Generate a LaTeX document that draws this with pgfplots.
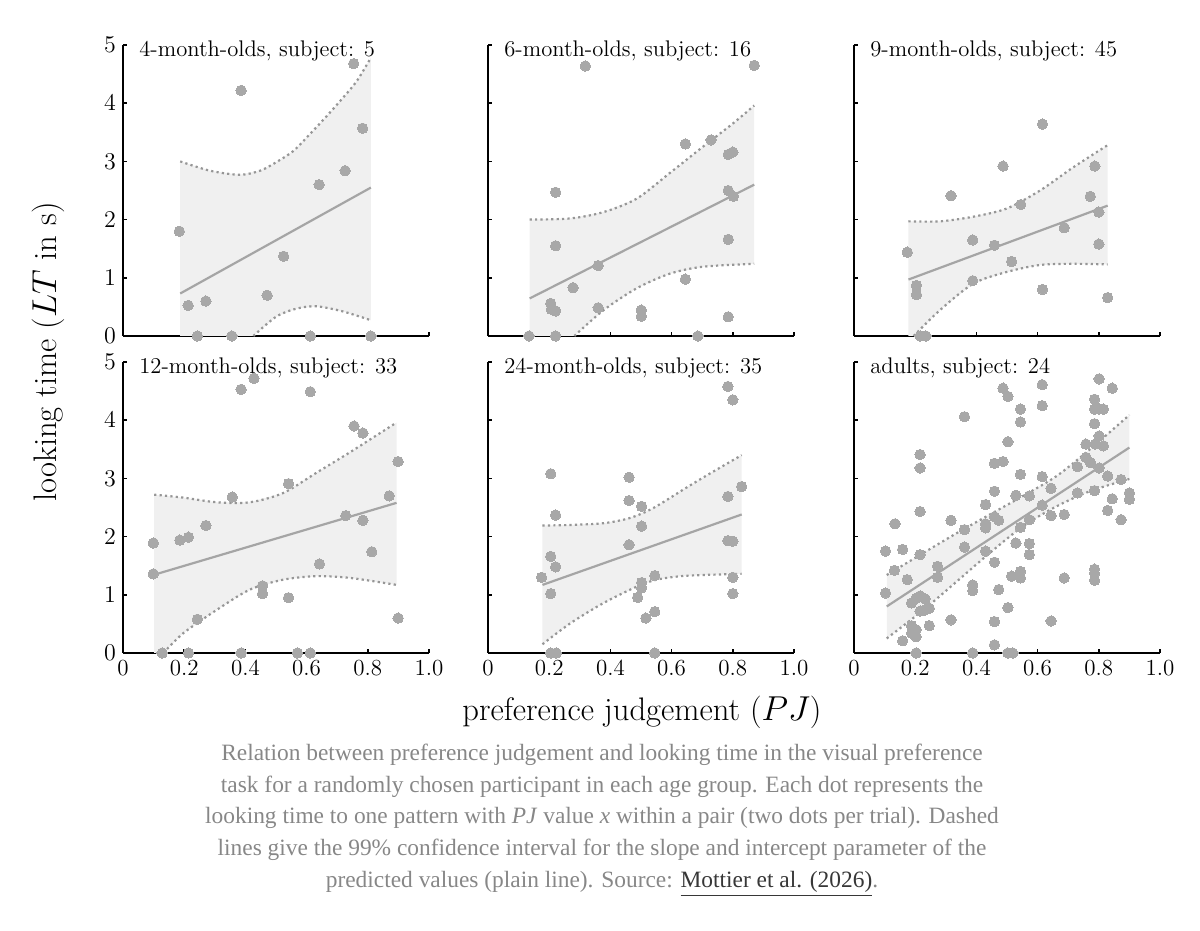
\documentclass[border=0pt]{standalone}
\usepackage{fontspec}
\newfontfamily\capfont{Liberation Serif}
\usepackage{pgfplots}
\pgfplotsset{compat=1.18}
\definecolor{dotgray}{RGB}{168,168,168}
\definecolor{bandgray}{RGB}{240,240,240}
\definecolor{linegray}{RGB}{165,165,165}
\definecolor{cigray}{RGB}{150,150,150}
\definecolor{capgray}{RGB}{135,135,135}
\definecolor{linkgray}{RGB}{55,55,55}
\pgfplotsset{
 panel/.style={
  scale only axis, width=153pt, height=145.5pt,
  xmin=0,xmax=1,ymin=0,ymax=5,
  axis x line=bottom, axis y line=left,
  axis line style={-, line width=0.9pt, black},
  tick align=inside, major tick length=2.2pt,
  tick style={line width=0.8pt, black},
  xtick={0,0.2,0.4,0.6,0.8,1}, xticklabels={0,0.2,0.4,0.6,0.8,1.0},
  ytick={0,1,2,3,4,5},
  tick label style={font=\fontsize{11.5}{12}\selectfont},
  clip=false,
  anchor=south west,
 },
 notx/.style={xticklabels={}},
 noty/.style={yticklabels={}},
 band/.style={fill=bandgray, draw=none, forget plot},
 ci/.style={cigray, line width=1.1pt, dash pattern=on 1.1pt off 1.6pt, smooth, tension=0.5, no markers},
 fit/.style={linegray, line width=1.1pt, no markers},
 dots/.style={only marks, mark=*, mark size=2.6pt, color=dotgray, mark options={fill=dotgray, draw=dotgray, line width=0pt}},
}
\newcommand\paneltitle[1]{\node[anchor=base west, inner sep=0pt, font=\fontsize{11.3}{12}\selectfont] at ([xshift=8pt,yshift=-5.5pt]rel axis cs:0,1) {#1};}
\begin{document}
\begin{tikzpicture}
\useasboundingbox (0,0) rectangle (600pt,465.5pt);
% ---------- panel 1
\begin{axis}[panel, notx, at={(61.5pt,297.5pt)}]
\addplot[band] coordinates {(0.187,0)(0.187,3.00)(0.284,2.84)(0.382,2.77)(0.448,2.84)(0.502,2.99)(0.557,3.18)(0.611,3.47)(0.666,3.78)(0.72,4.10)(0.764,4.38)(0.81,4.78)(0.81,0.27)(0.72,0.42)(0.633,0.51)(0.567,0.47)(0.50,0.33)(0.426,0)} -- cycle;
\addplot[ci] coordinates {(0.187,3.00)(0.284,2.84)(0.382,2.77)(0.448,2.84)(0.502,2.99)(0.557,3.18)(0.611,3.47)(0.666,3.78)(0.72,4.10)(0.764,4.38)(0.81,4.78)};
\addplot[ci] coordinates {(0.426,0)(0.50,0.33)(0.567,0.47)(0.633,0.51)(0.72,0.42)(0.81,0.27)};
\addplot[fit] coordinates {(0.187,0.73)(0.81,2.55)};
\addplot[dots] coordinates {(0.184,1.80)(0.213,0.525)(0.271,0.60)(0.243,0)(0.356,0)(0.386,4.22)(0.471,0.70)(0.525,1.37)(0.612,0)(0.641,2.60)(0.726,2.84)(0.754,4.68)(0.783,3.57)(0.810,0)};
\paneltitle{4-month-olds, subject: 5}
\end{axis}
% ---------- panel 2
\begin{axis}[panel, notx, noty, at={(244pt,297.5pt)}]
\addplot[band] coordinates {(0.136,0)(0.136,2.00)(0.269,2.02)(0.378,2.13)(0.486,2.36)(0.594,2.80)(0.702,3.25)(0.80,3.65)(0.87,3.96)(0.87,1.24)(0.702,1.19)(0.594,1.07)(0.486,0.82)(0.378,0.445)(0.282,0)} -- cycle;
\addplot[ci] coordinates {(0.136,2.00)(0.269,2.02)(0.378,2.13)(0.486,2.36)(0.594,2.80)(0.702,3.25)(0.80,3.65)(0.87,3.96)};
\addplot[ci] coordinates {(0.282,0)(0.378,0.445)(0.486,0.82)(0.594,1.07)(0.702,1.19)(0.87,1.24)};
\addplot[fit] coordinates {(0.136,0.645)(0.87,2.60)};
\addplot[dots] coordinates {(0.134,0)(0.221,0)(0.318,4.64)(0.221,2.47)(0.221,1.55)(0.205,0.56)(0.207,0.46)(0.221,0.43)(0.278,0.83)(0.360,1.21)(0.360,0.485)(0.501,0.445)(0.501,0.34)(0.645,3.30)(0.645,0.976)(0.686,0)(0.729,3.37)(0.785,3.12)(0.80,3.16)(0.785,2.50)(0.802,2.40)(0.785,1.66)(0.785,0.33)(0.870,4.65)};
\paneltitle{6-month-olds, subject: 16}
\end{axis}
% ---------- panel 3
\begin{axis}[panel, notx, noty, at={(427pt,297.5pt)}]
\addplot[band] coordinates {(0.178,0)(0.178,1.97)(0.281,1.97)(0.39,2.05)(0.499,2.19)(0.608,2.50)(0.717,2.90)(0.829,3.28)(0.829,1.23)(0.717,1.24)(0.608,1.22)(0.499,1.10)(0.39,0.90)(0.281,0.445)(0.195,0)} -- cycle;
\addplot[ci] coordinates {(0.178,1.97)(0.281,1.97)(0.39,2.05)(0.499,2.19)(0.608,2.50)(0.717,2.90)(0.829,3.28)};
\addplot[ci] coordinates {(0.195,0)(0.281,0.445)(0.39,0.90)(0.499,1.10)(0.608,1.22)(0.717,1.24)(0.829,1.23)};
\addplot[fit] coordinates {(0.178,0.97)(0.829,2.24)};
\addplot[dots] coordinates {(0.174,1.44)(0.204,0.87)(0.204,0.71)(0.216,0)(0.235,0)(0.317,2.41)(0.388,1.65)(0.388,0.95)(0.459,1.56)(0.487,2.92)(0.515,1.28)(0.545,2.26)(0.616,3.64)(0.616,0.80)(0.687,1.86)(0.772,2.40)(0.787,2.92)(0.80,2.13)(0.80,1.58)(0.829,0.66)};
\paneltitle{9-month-olds, subject: 45}
\end{axis}
% ---------- panel 4
\begin{axis}[panel, at={(61.5pt,139pt)}]
\addplot[band] coordinates {(0.102,0)(0.102,2.72)(0.197,2.67)(0.306,2.59)(0.415,2.59)(0.524,2.75)(0.633,3.10)(0.742,3.45)(0.894,3.96)(0.894,1.17)(0.742,1.29)(0.633,1.32)(0.524,1.26)(0.415,1.09)(0.306,0.74)(0.197,0.34)(0.132,0)} -- cycle;
\addplot[ci] coordinates {(0.102,2.72)(0.197,2.67)(0.306,2.59)(0.415,2.59)(0.524,2.75)(0.633,3.10)(0.742,3.45)(0.894,3.96)};
\addplot[ci] coordinates {(0.132,0)(0.197,0.34)(0.306,0.74)(0.415,1.09)(0.524,1.26)(0.633,1.32)(0.742,1.29)(0.894,1.17)};
\addplot[fit] coordinates {(0.102,1.345)(0.894,2.58)};
\addplot[dots] coordinates {(0.099,1.89)(0.099,1.36)(0.128,0)(0.186,1.94)(0.214,1.99)(0.214,0)(0.243,0.58)(0.271,2.19)(0.357,2.68)(0.386,4.53)(0.386,0)(0.428,4.72)(0.456,1.155)(0.456,1.02)(0.541,2.91)(0.541,0.95)(0.570,0)(0.612,4.49)(0.612,0)(0.642,1.53)(0.728,2.36)(0.755,3.90)(0.784,3.78)(0.784,2.28)(0.813,1.74)(0.870,2.70)(0.899,3.29)(0.899,0.60)};
\paneltitle{12-month-olds, subject: 33}
\end{axis}
% ---------- panel 5
\begin{axis}[panel, noty, at={(244pt,139pt)}]
\addplot[band] coordinates {(0.178,0.15)(0.178,2.19)(0.269,2.20)(0.378,2.23)(0.464,2.32)(0.54,2.49)(0.648,2.84)(0.724,3.08)(0.829,3.40)(0.829,1.36)(0.702,1.34)(0.63,1.32)(0.551,1.26)(0.486,1.14)(0.378,0.86)(0.269,0.51)} -- cycle;
\addplot[ci] coordinates {(0.178,2.19)(0.269,2.20)(0.378,2.23)(0.464,2.32)(0.54,2.49)(0.648,2.84)(0.724,3.08)(0.829,3.40)};
\addplot[ci] coordinates {(0.178,0.15)(0.269,0.51)(0.378,0.86)(0.486,1.14)(0.551,1.26)(0.63,1.32)(0.702,1.34)(0.829,1.36)};
\addplot[fit] coordinates {(0.178,1.17)(0.829,2.38)};
\addplot[dots] coordinates {(0.175,1.30)(0.205,3.08)(0.205,1.66)(0.205,1.02)(0.205,0)(0.223,0)(0.221,2.37)(0.221,1.48)(0.461,3.02)(0.461,2.62)(0.461,1.86)(0.489,0.955)(0.502,2.52)(0.502,2.18)(0.502,1.21)(0.502,1.12)(0.516,0.60)(0.545,0.71)(0.545,1.33)(0.545,0)(0.784,4.58)(0.80,4.35)(0.784,2.69)(0.829,2.86)(0.784,1.93)(0.80,1.92)(0.80,1.30)(0.80,1.02)};
\paneltitle{24-month-olds, subject: 35}
\end{axis}
% ---------- panel 6
\begin{axis}[panel, noty, at={(427pt,139pt)}]
\addplot[band] coordinates {(0.107,0.25)(0.107,1.34)(0.227,1.72)(0.336,2.06)(0.444,2.38)(0.553,2.70)(0.662,3.04)(0.771,3.50)(0.900,4.09)(0.900,2.99)(0.771,2.78)(0.662,2.52)(0.553,2.18)(0.444,1.72)(0.336,1.23)(0.227,0.74)} -- cycle;
\addplot[ci] coordinates {(0.107,1.34)(0.227,1.72)(0.336,2.06)(0.444,2.38)(0.553,2.70)(0.662,3.04)(0.771,3.50)(0.900,4.09)};
\addplot[ci] coordinates {(0.107,0.25)(0.227,0.74)(0.336,1.23)(0.444,1.72)(0.553,2.18)(0.662,2.52)(0.771,2.78)(0.900,2.99)};
\addplot[fit] coordinates {(0.107,0.80)(0.900,3.53)};
\addplot[dots] coordinates {(0.103,1.75)(0.103,1.03)(0.132,1.42)(0.134,2.22)(0.159,1.78)(0.159,0.21)(0.174,1.26)(0.188,0.86)(0.188,0.47)(0.203,0)(0.203,0.40)(0.203,0.28)(0.216,3.41)(0.216,3.18)(0.216,2.43)(0.216,1.69)(0.216,0.98)(0.216,0.72)(0.232,0.74)(0.246,0.77)(0.246,0.47)(0.203,0.94)(0.188,0.34)(0.232,0.93)(0.273,1.49)(0.273,1.30)(0.317,2.28)(0.317,0.57)(0.361,4.06)(0.361,2.12)(0.361,1.82)(0.388,1.17)(0.388,1.07)(0.388,0)(0.430,2.55)(0.430,2.22)(0.430,2.15)(0.430,1.75)(0.459,2.78)(0.459,2.34)(0.459,1.56)(0.459,0.54)(0.459,0.14)(0.473,2.28)(0.473,1.09)(0.487,4.55)(0.503,4.41)(0.459,3.26)(0.487,3.29)(0.503,3.63)(0.503,0.78)(0.503,0)(0.519,0)(0.529,2.71)(0.529,1.89)(0.515,1.32)(0.544,1.40)(0.544,1.29)(0.544,4.19)(0.544,3.97)(0.544,3.07)(0.544,2.16)(0.573,2.70)(0.573,2.29)(0.573,1.88)(0.573,1.69)(0.615,4.61)(0.615,4.25)(0.615,3.03)(0.615,2.54)(0.644,2.83)(0.644,2.36)(0.644,0.55)(0.687,2.38)(0.687,1.29)(0.730,3.20)(0.730,2.75)(0.758,3.59)(0.758,3.36)(0.773,3.27)(0.786,4.36)(0.786,3.94)(0.786,4.19)(0.801,4.19)(0.815,4.19)(0.801,4.71)(0.788,3.59)(0.801,3.73)(0.815,3.56)(0.801,3.18)(0.786,2.79)(0.786,1.44)(0.786,1.37)(0.786,1.25)(0.829,3.04)(0.844,4.55)(0.844,2.65)(0.829,2.45)(0.873,2.98)(0.873,2.29)(0.900,2.75)(0.900,2.64)};
\paneltitle{adults, subject: 24}
\end{axis}
% ---------- axis labels
\node[rotate=90, font=\fontsize{16.3}{18}\selectfont] at (24pt,289.5pt) {looking time ($LT$ in s)};
\node[font=\fontsize{16.3}{18}\selectfont] at (321pt,109.5pt) {preference judgement ($PJ$)};
% ---------- caption
\begin{scope}[every node/.style={anchor=base, inner sep=0pt, text=capgray, font=\capfont\fontsize{11.7}{14}\selectfont}]
\node at (301pt,85pt) {Relation between preference judgement and looking time in the visual preference};
\node at (301pt,69pt) {task for a randomly chosen participant in each age group. Each dot represents the};
\node at (301pt,53.5pt) {looking time to one pattern with \textit{PJ} value \textit{x} within a pair (two dots per trial). Dashed};
\node at (301pt,37.5pt) {lines give the 99\% confidence interval for the slope and intercept parameter of the};
\node at (301pt,21.5pt) {predicted values (plain line). Source: \textcolor{linkgray}{\underline{Mottier et al. (2026)}}.};
\end{scope}
\end{tikzpicture}
\end{document}
